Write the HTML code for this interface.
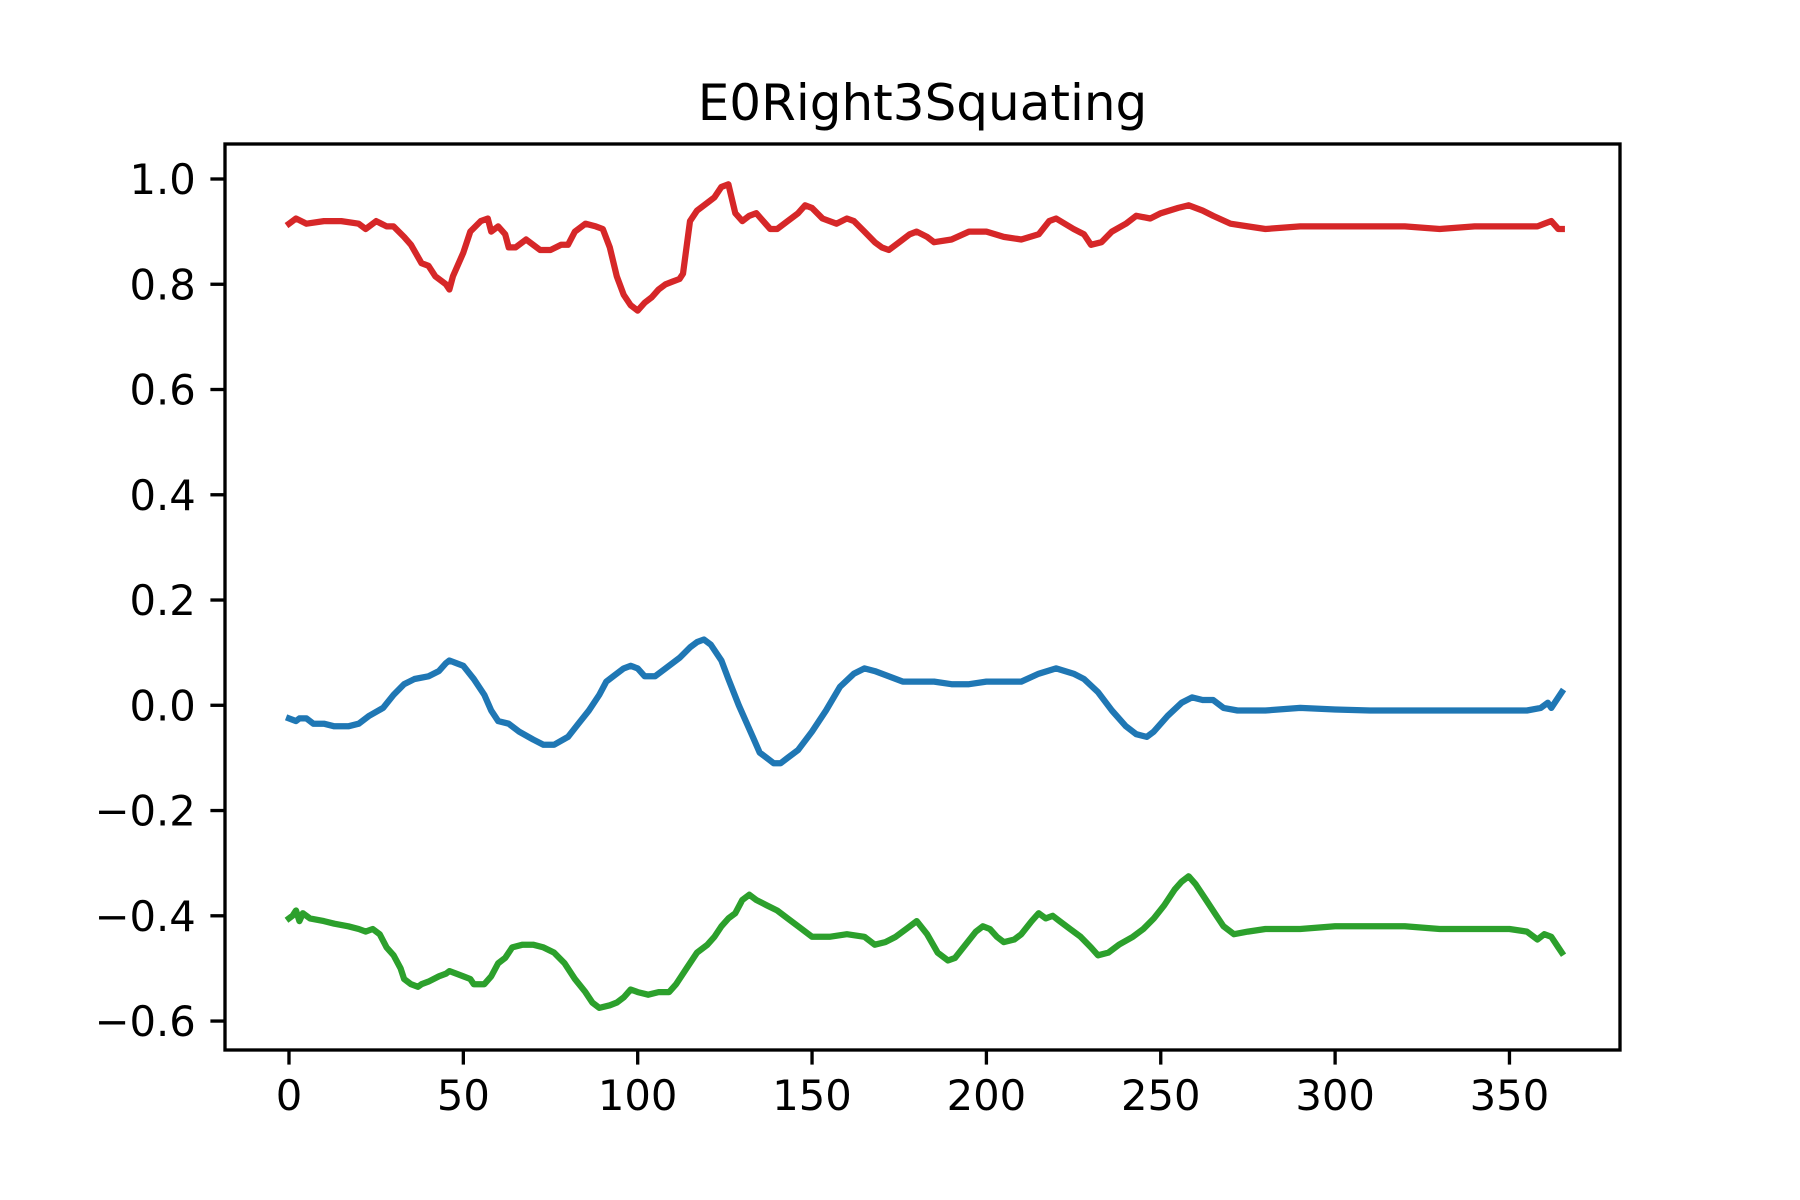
<!DOCTYPE html>
<html><head><meta charset="utf-8"><style>
html,body{margin:0;padding:0;background:#fff;}
svg{display:block;font-family:"DejaVu Sans","Liberation Sans",sans-serif;}
</style></head><body>
<svg id="chart" width="1800" height="1200" viewBox="0 0 1800 1200" xmlns="http://www.w3.org/2000/svg">
<rect width="1800" height="1200" fill="#fff"/>
<text x="922.5" y="120" font-size="50" text-anchor="middle" fill="#000">E0Right3Squating</text>
<g id="series"></g>
<g id="axes"></g>
</svg>
<script>
const xTicks=[0,50,100,150,200,250,300,350];
const yTicks=[-0.6,-0.4,-0.2,0.0,0.2,0.4,0.6,0.8,1.0];
const yTickLabels=["\u22120.6","\u22120.4","\u22120.2","0.0","0.2","0.4","0.6","0.8","1.0"];
const redX=[0,2,5,10,15,20,22,25,28,30,33,35,38,40,42,45,46,47,50,52,55,57,58,60,62,63,65,68,70,72,75,78,80,82,85,88,90,92,94,96,98,100,102,104,106,108,110,112,113,115,117,120,122,124,126,128,130,132,134,136,138,140,143,146,148,150,153,157,160,162,165,168,170,172,175,178,180,183,185,190,195,200,205,210,215,218,220,225,228,230,233,236,240,243,247,250,255,258,262,265,270,275,280,290,300,310,320,330,340,350,358,360,362,364,365];
const redY=[0.915,0.925,0.915,0.92,0.92,0.915,0.905,0.92,0.91,0.91,0.89,0.875,0.84,0.835,0.815,0.80,0.79,0.815,0.86,0.9,0.92,0.925,0.9,0.91,0.895,0.87,0.87,0.885,0.875,0.865,0.865,0.875,0.875,0.9,0.915,0.91,0.905,0.87,0.815,0.78,0.76,0.75,0.765,0.775,0.79,0.80,0.805,0.81,0.82,0.92,0.94,0.955,0.965,0.985,0.99,0.935,0.92,0.93,0.935,0.92,0.905,0.905,0.92,0.935,0.95,0.945,0.925,0.915,0.925,0.92,0.90,0.88,0.87,0.865,0.88,0.895,0.9,0.89,0.88,0.885,0.9,0.9,0.89,0.885,0.895,0.92,0.925,0.905,0.895,0.875,0.88,0.90,0.915,0.93,0.925,0.935,0.945,0.95,0.94,0.93,0.915,0.91,0.905,0.91,0.91,0.91,0.91,0.905,0.91,0.91,0.91,0.915,0.92,0.905,0.905];
const blueX=[0,2,3,5,7,10,13,17,20,23,27,30,33,36,40,43,45,46,48,50,53,56,58,60,63,66,70,73,76,80,83,86,89,91,93,96,98,100,102,105,108,112,115,117,119,121,124,126,129,131,133,135,137,139,141,143,146,150,154,158,162,165,168,172,176,180,185,190,195,200,205,210,215,220,225,228,232,236,240,243,246,248,252,256,259,262,265,268,272,280,290,300,310,320,330,340,350,355,359,361,362,365];
const blueY=[-0.025,-0.03,-0.025,-0.025,-0.035,-0.035,-0.04,-0.04,-0.035,-0.02,-0.005,0.02,0.04,0.05,0.055,0.065,0.08,0.085,0.08,0.075,0.05,0.02,-0.01,-0.03,-0.035,-0.05,-0.065,-0.075,-0.075,-0.06,-0.035,-0.01,0.02,0.045,0.055,0.07,0.075,0.07,0.055,0.055,0.07,0.09,0.11,0.12,0.125,0.115,0.085,0.05,0.0,-0.03,-0.06,-0.09,-0.1,-0.11,-0.11,-0.1,-0.085,-0.05,-0.01,0.035,0.06,0.07,0.065,0.055,0.045,0.045,0.045,0.04,0.04,0.045,0.045,0.045,0.06,0.07,0.06,0.05,0.025,-0.01,-0.04,-0.055,-0.06,-0.05,-0.02,0.005,0.015,0.01,0.01,-0.005,-0.01,-0.01,-0.005,-0.008,-0.01,-0.01,-0.01,-0.01,-0.01,-0.01,-0.005,0.005,-0.005,0.025];
const greenX=[0,1,2,3,4,6,10,13,17,20,22,24,26,28,30,32,33,35,37,38,40,43,45,46,48,50,52,53,56,58,60,62,64,67,70,73,76,79,82,85,87,89,92,94,96,98,100,103,106,109,111,114,117,120,122,124,126,128,130,132,134,137,140,143,146,150,155,160,165,168,171,174,177,180,183,186,189,191,194,197,199,201,203,205,208,210,213,215,217,219,221,224,227,230,232,235,238,242,245,248,251,254,256,258,260,263,266,268,271,275,280,290,300,310,320,330,340,350,355,358,360,362,364,365];
const greenY=[-0.405,-0.4,-0.39,-0.41,-0.395,-0.405,-0.41,-0.415,-0.42,-0.425,-0.43,-0.425,-0.435,-0.46,-0.475,-0.5,-0.52,-0.53,-0.535,-0.53,-0.525,-0.515,-0.51,-0.505,-0.51,-0.515,-0.52,-0.53,-0.53,-0.515,-0.49,-0.48,-0.46,-0.455,-0.455,-0.46,-0.47,-0.49,-0.52,-0.545,-0.565,-0.575,-0.57,-0.565,-0.555,-0.54,-0.545,-0.55,-0.545,-0.545,-0.53,-0.5,-0.47,-0.455,-0.44,-0.42,-0.405,-0.395,-0.37,-0.36,-0.37,-0.38,-0.39,-0.405,-0.42,-0.44,-0.44,-0.435,-0.44,-0.455,-0.45,-0.44,-0.425,-0.41,-0.435,-0.47,-0.485,-0.48,-0.455,-0.43,-0.42,-0.425,-0.44,-0.45,-0.445,-0.435,-0.41,-0.395,-0.405,-0.4,-0.41,-0.425,-0.44,-0.46,-0.475,-0.47,-0.455,-0.44,-0.425,-0.405,-0.38,-0.35,-0.335,-0.325,-0.34,-0.37,-0.4,-0.42,-0.435,-0.43,-0.425,-0.425,-0.42,-0.42,-0.42,-0.425,-0.425,-0.425,-0.43,-0.445,-0.435,-0.44,-0.46,-0.47];

const L=225,R=1620,T=144,B=1050;
const xMin=-18.35,xMax=381.7,yMin=-0.655,yMax=1.0665;
function sx(v){return L+(v-xMin)/(xMax-xMin)*(R-L);}
function sy(v){return B-(v-yMin)/(yMax-yMin)*(B-T);}
const NS="http://www.w3.org/2000/svg";
const sg=document.getElementById('series');
function addLine(xs,ys,color,name){
  const p=document.createElementNS(NS,'polyline');
  p.setAttribute('points',xs.map((x,i)=>sx(x).toFixed(1)+','+sy(ys[i]).toFixed(1)).join(' '));
  p.setAttribute('fill','none');p.setAttribute('stroke',color);
  p.setAttribute('stroke-width','6.25');p.setAttribute('stroke-linejoin','round');p.setAttribute('stroke-linecap','square');
  
  
  sg.appendChild(p);
}
addLine(blueX,blueY,'#1f77b4','series-blue');
addLine(redX,redY,'#d62728','series-red');
addLine(greenX,greenY,'#2ca02c','series-green');
const ag=document.getElementById('axes');
const frame=document.createElementNS(NS,'rect');
frame.setAttribute('x',L);frame.setAttribute('y',T);frame.setAttribute('width',R-L);frame.setAttribute('height',B-T);
frame.setAttribute('fill','none');frame.setAttribute('stroke','#000');frame.setAttribute('stroke-width','3.33');


ag.appendChild(frame);
xTicks.forEach(v=>{
  const x=sx(v);
  const l=document.createElementNS(NS,'line');
  l.setAttribute('x1',x);l.setAttribute('x2',x);l.setAttribute('y1',B);l.setAttribute('y2',B+14.6);
  l.setAttribute('stroke','#000');l.setAttribute('stroke-width','3.33');
  
  
  ag.appendChild(l);
  const t=document.createElementNS(NS,'text');
  t.setAttribute('x',x);t.setAttribute('y',B+29.2+31);t.setAttribute('font-size','41.7');t.setAttribute('text-anchor','middle');
  t.textContent=String(v);
  
  
  ag.appendChild(t);
});
yTicks.forEach((v,i)=>{
  const y=sy(v);
  const l=document.createElementNS(NS,'line');
  l.setAttribute('x1',L-14.6);l.setAttribute('x2',L);l.setAttribute('y1',y);l.setAttribute('y2',y);
  l.setAttribute('stroke','#000');l.setAttribute('stroke-width','3.33');
  
  
  ag.appendChild(l);
  const t=document.createElementNS(NS,'text');
  t.setAttribute('x',L-29.2);t.setAttribute('y',y+15);t.setAttribute('font-size','41.7');t.setAttribute('text-anchor','end');
  t.textContent=yTickLabels[i];
  
  
  ag.appendChild(t);
});
</script>
</body></html>
